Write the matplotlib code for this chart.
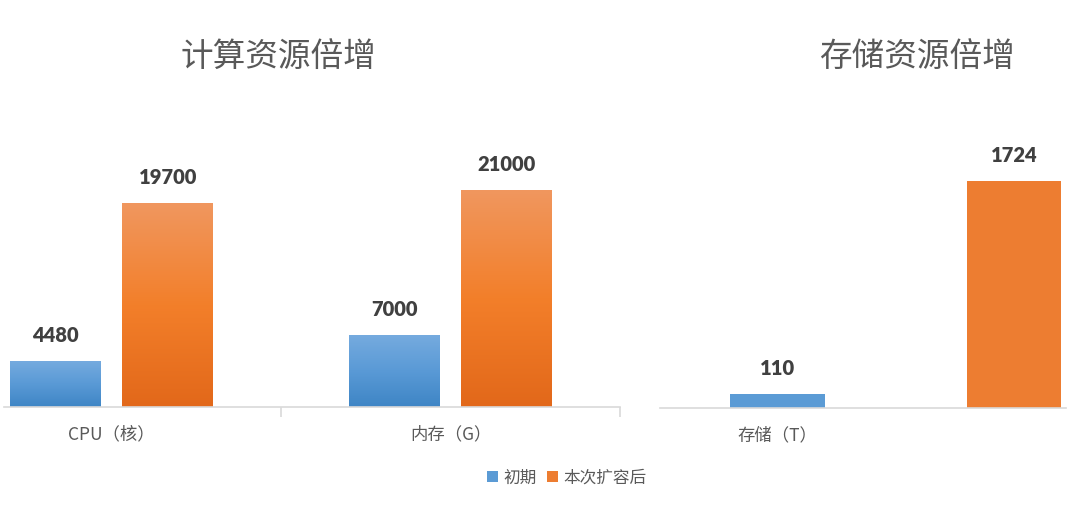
import numpy as np
import matplotlib
matplotlib.use('Agg')
import matplotlib.pyplot as plt
from matplotlib.colors import LinearSegmentedColormap
from matplotlib.patches import Patch

plt.rcParams['font.family'] = ['Noto Sans CJK SC', 'DejaVu Sans']

# data
compute_cats = ['CPU（核）', '内存（G）']
compute_before = [4480, 7000]
compute_after = [19700, 21000]

storage_cats = ['存储（T）', '']
storage_before = 110
storage_after = 1724

series_names = ['初期', '本次扩容后']
titles = ['计算资源倍增', '存储资源倍增']

BLUE = '#5b9bd5'
ORANGE = '#ed7d31'
BLUE_GRAD = ['#76abdf', '#5a9ad6', '#3e85c5']
ORANGE_GRAD = ['#f0975f', '#f37f2a', '#e2681a']
TEXT = '#595959'
VALUE = '#404040'
AXIS = '#d9d9d9'


def gradient_bars(ax, bars, colors):
    cmap = LinearSegmentedColormap.from_list('g', colors)
    grad = np.linspace(0, 1, 256).reshape(-1, 1)
    for rect in bars:
        x, y = rect.get_x(), rect.get_y()
        w, h = rect.get_width(), rect.get_height()
        im = ax.imshow(grad, cmap=cmap, extent=[x, x + w, y, y + h],
                       aspect='auto', zorder=2, origin='upper')
        im.set_clip_path(rect)
        rect.set_facecolor('none')


def label_bars(ax, bars, values):
    for rect, v in zip(bars, values):
        ax.annotate(str(v), (rect.get_x() + rect.get_width() / 2, rect.get_height()),
                    xytext=(0, 11.5), textcoords='offset points',
                    ha='center', va='bottom', fontsize=14.5, fontweight='heavy',
                    family='Lato', color=VALUE)


def style_axis(ax):
    for s in ['top', 'right', 'left']:
        ax.spines[s].set_visible(False)
    ax.spines['bottom'].set_color(AXIS)
    ax.spines['bottom'].set_linewidth(1.2)
    ax.set_yticks([])
    ax.tick_params(axis='x', which='major', length=0, pad=13,
                   labelsize=12.5, labelcolor=TEXT)


fig = plt.figure(figsize=(10.71, 5.07), dpi=100)
W, H = 1071, 507

# left: compute resources
ax1 = fig.add_axes([4 / W, (H - 407) / H, 616 / W, 287 / H])
x = np.arange(len(compute_cats))
bw = 0.268
b1 = ax1.bar(x - 0.166, compute_before, bw, color=BLUE, zorder=2)
b2 = ax1.bar(x + 0.166, compute_after, bw, color=ORANGE, zorder=2)
gradient_bars(ax1, b1, BLUE_GRAD)
gradient_bars(ax1, b2, ORANGE_GRAD)
label_bars(ax1, b1, compute_before)
label_bars(ax1, b2, compute_after)
ax1.set_xlim(-0.317, 1.5)
ax1.set_ylim(0, 27774)
ax1.set_xticks(x)
ax1.set_xticklabels(compute_cats)
ax1.set_xticks([0.5, 1.5], minor=True)
style_axis(ax1)
ax1.tick_params(axis='x', which='minor', length=7, width=1.2, color=AXIS)

# right: storage
ax2 = fig.add_axes([660 / W, (H - 408) / H, 406 / W, 288 / H])
xs = np.arange(len(storage_cats))
bw2 = 0.40
s1 = ax2.bar(xs[0], storage_before, bw2, color=BLUE, zorder=2)
s2 = ax2.bar(xs[1], storage_after, bw2, color=ORANGE, zorder=2)
label_bars(ax2, s1, [storage_before])
label_bars(ax2, s2, [storage_after])
ax2.set_xlim(-0.497, 1.22)
ax2.set_ylim(0, 2187)
ax2.set_xticks(xs)
ax2.set_xticklabels(storage_cats)
style_axis(ax2)

fig.text(278 / W, 1 - 57 / H, titles[0], fontsize=23.5, color=TEXT,
         ha='center', va='center')
fig.text(917 / W, 1 - 57 / H, titles[1], fontsize=23.5, color=TEXT,
         ha='center', va='center')

handles = [Patch(facecolor=BLUE, label=series_names[0]),
           Patch(facecolor=ORANGE, label=series_names[1])]
fig.legend(handles=handles, loc='center', bbox_to_anchor=(567 / W, 29 / H),
           ncol=2, frameon=False, fontsize=12, labelcolor=TEXT,
           handlelength=0.65, handleheight=0.65, handletextpad=0.35,
           columnspacing=0.6)

fig.savefig('out.png', dpi=100)
